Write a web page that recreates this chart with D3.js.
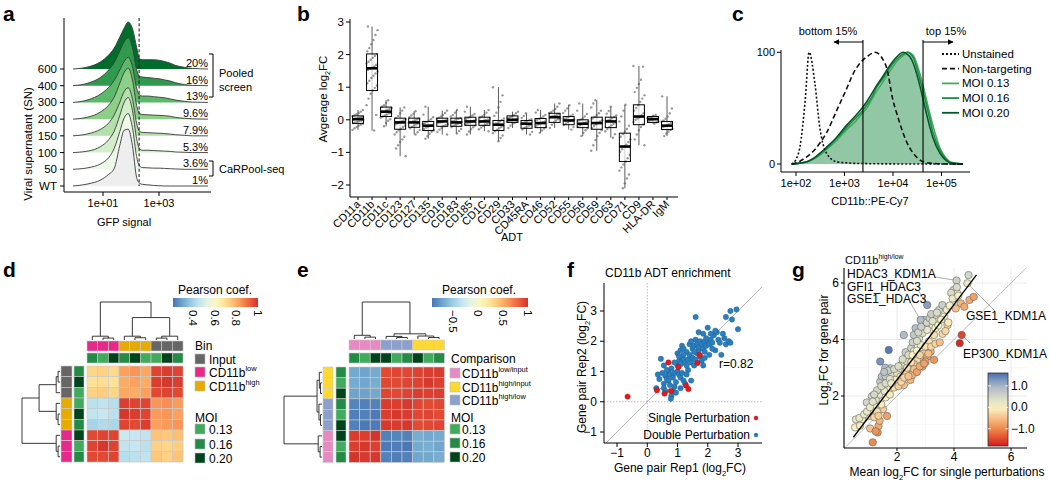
<!DOCTYPE html>
<html><head><meta charset="utf-8">
<script src="https://cdn.jsdelivr.net/npm/d3@7"></script>
<style>
body{margin:0;background:#fff;}
svg{font-family:"Liberation Sans",Arial,Helvetica,sans-serif;}
</style></head><body>
<svg id="chart" width="1050" height="483"></svg>
<script>
// ================= DATA =================
// Panel a: ridgelines (GFP signal, log10 grid) per viral supernatant
const ridgeRows = ["600","400","300","200","150","100","50","WT"];
const ridgePct  = ["20%","16%","13%","9.6%","7.9%","5.3%","3.6%","1%"];
const ridgeGridLog = [-0.07,0.5,0.9,1.2,1.4,1.6,1.75,1.9,2.05,2.2,2.3,2.4,2.6,2.8,3.0,3.2,3.4,3.6,3.9,4.2,4.75];
const ridge600 = [0,0.04,0.12,0.24,0.36,0.55,0.7,0.81,0.7,0.38,0.18,0.16,0.16,0.16,0.15,0.13,0.1,0.06,0.03,0.01,0];
const ridge400 = [0,0.05,0.14,0.27,0.4,0.6,0.75,0.83,0.66,0.28,0.16,0.15,0.14,0.13,0.12,0.1,0.08,0.05,0.02,0.005,0];
const ridge300 = [0,0.05,0.14,0.26,0.38,0.56,0.7,0.78,0.62,0.25,0.13,0.11,0.11,0.1,0.09,0.08,0.06,0.04,0.02,0.005,0];
const ridge200 = [0,0.04,0.12,0.24,0.38,0.62,0.8,0.88,0.68,0.24,0.1,0.08,0.075,0.07,0.065,0.06,0.05,0.03,0.015,0.005,0];
const ridge150 = [0,0.04,0.11,0.22,0.36,0.58,0.76,0.83,0.64,0.22,0.08,0.06,0.055,0.05,0.045,0.04,0.03,0.02,0.01,0,0];
const ridge100 = [0,0.03,0.1,0.22,0.37,0.64,0.86,0.95,0.73,0.24,0.07,0.04,0.04,0.035,0.03,0.025,0.02,0.01,0.005,0,0];
const ridge50  = [0,0.03,0.09,0.2,0.36,0.65,0.88,0.96,0.72,0.22,0.06,0.03,0.025,0.02,0.02,0.015,0.01,0.005,0,0,0];
const ridgeWT  = [0,0.04,0.1,0.2,0.3,0.7,0.96,0.98,0.7,0.15,0.05,0.03,0.02,0.01,0.005,0,0,0,0,0,0];
const ridgeFill = ["#006d2c","#2f9a4e","#5cb96b","#8ccf87","#b3e0ab","#d3eecb","#edf8e9","#eeeeee"];

// Panel b: ADT boxplots
const adtNames = ["CD11a","CD11b","CD11c","CD123","CD127","CD135","CD16","CD183","CD185","CD1C","CD29","CD33","CD45RA","CD46","CD52","CD55","CD56","CD59","CD63","CD71","CD9","HLA-DR","IgM"];
const adtMedian = [0.02,1.58,0.25,-0.08,-0.08,-0.18,-0.05,-0.08,-0.05,-0.05,-0.15,0.0,-0.12,-0.1,0.08,-0.02,-0.12,-0.1,-0.05,-0.82,0.1,0.02,-0.18];
const adtQ1 = [-0.11,0.9,0.1,-0.29,-0.23,-0.33,-0.2,-0.2,-0.17,-0.17,-0.33,-0.08,-0.26,-0.24,-0.08,-0.15,-0.24,-0.29,-0.24,-1.28,-0.15,-0.08,-0.3];
const adtQ3 = [0.12,2.02,0.39,0.05,0.05,-0.05,0.05,0.05,0.08,0.08,-0.02,0.12,-0.02,0.04,0.2,0.1,0.0,0.08,0.08,-0.41,0.46,0.1,-0.05];
const adtPoints = [
 [-0.31,-0.26,-0.22,-0.18,-0.15,-0.12,-0.1,-0.08,-0.06,-0.04,-0.02,0,0.01,0.03,0.05,0.07,0.09,0.11,0.14,0.17,0.21,0.25,0.3],
 [-0.33,0.15,0.45,0.65,0.8,0.9,0.98,1.05,1.12,1.2,1.28,1.35,1.42,1.48,1.53,1.57,1.6,1.64,1.68,1.73,1.78,1.84,1.9,1.96,2.02,2.1,2.2,2.32,2.45,2.6,2.75,2.86],
 [-0.2,-0.1,-0.03,0.02,0.06,0.1,0.13,0.16,0.19,0.21,0.23,0.25,0.27,0.3,0.33,0.36,0.4,0.45,0.52,0.6],
 [-1.12,-0.88,-0.78,-0.68,-0.6,-0.52,-0.45,-0.38,-0.32,-0.27,-0.22,-0.18,-0.14,-0.11,-0.08,-0.05,-0.02,0.02,0.06,0.12,0.2,0.28,0.38],
 [-0.45,-0.38,-0.31,-0.26,-0.21,-0.17,-0.14,-0.11,-0.09,-0.07,-0.05,-0.02,0.01,0.04,0.08,0.13,0.19,0.26],
 [-0.58,-0.5,-0.43,-0.37,-0.32,-0.28,-0.24,-0.21,-0.18,-0.16,-0.13,-0.1,-0.07,-0.03,0.02,0.08,0.16,0.4],
 [-0.45,-0.37,-0.3,-0.25,-0.2,-0.16,-0.13,-0.1,-0.08,-0.06,-0.03,0,0.03,0.06,0.1,0.15,0.21,0.28],
 [-0.42,-0.34,-0.28,-0.22,-0.18,-0.15,-0.12,-0.09,-0.07,-0.05,-0.03,0,0.03,0.06,0.1,0.15,0.22,0.3],
 [-0.45,-0.36,-0.29,-0.23,-0.18,-0.14,-0.11,-0.08,-0.05,-0.03,0,0.03,0.06,0.09,0.13,0.18,0.25,0.4],
 [-0.35,-0.29,-0.24,-0.19,-0.15,-0.12,-0.09,-0.07,-0.05,-0.03,-0.01,0.01,0.04,0.07,0.11,0.16,0.22,0.3],
 [-0.66,-0.56,-0.48,-0.41,-0.35,-0.3,-0.26,-0.22,-0.18,-0.15,-0.12,-0.09,-0.05,-0.01,0.04,0.12,0.22,0.38,0.55,0.75,1.0],
 [-0.25,-0.18,-0.13,-0.1,-0.07,-0.05,-0.03,-0.02,0,0.01,0.03,0.05,0.07,0.1,0.14,0.2,0.25],
 [-0.45,-0.37,-0.3,-0.25,-0.21,-0.18,-0.15,-0.12,-0.1,-0.07,-0.04,-0.01,0.02,0.06,0.12,0.2],
 [-0.4,-0.33,-0.27,-0.22,-0.18,-0.14,-0.11,-0.08,-0.06,-0.03,0,0.03,0.06,0.1,0.15,0.22,0.3],
 [-0.25,-0.15,-0.08,-0.02,0.02,0.05,0.08,0.1,0.12,0.15,0.18,0.21,0.24,0.28,0.33,0.4,0.5],
 [-0.3,-0.22,-0.16,-0.11,-0.07,-0.04,-0.01,0.01,0.03,0.06,0.09,0.12,0.16,0.21,0.28,0.35,0.45],
 [-0.5,-0.4,-0.32,-0.26,-0.21,-0.17,-0.13,-0.1,-0.08,-0.05,-0.02,0.01,0.05,0.1,0.18,0.28,0.5],
 [-0.95,-0.78,-0.62,-0.5,-0.4,-0.32,-0.25,-0.19,-0.14,-0.09,-0.05,-0.01,0.04,0.09,0.14,0.2,0.28,0.38,0.5,0.6],
 [-0.55,-0.44,-0.35,-0.28,-0.22,-0.17,-0.12,-0.08,-0.05,-0.02,0.01,0.05,0.09,0.13,0.19,0.27,0.4],
 [-2.1,-1.95,-1.8,-1.68,-1.56,-1.46,-1.37,-1.28,-1.18,-1.08,-0.98,-0.9,-0.82,-0.76,-0.68,-0.6,-0.52,-0.44,-0.36,-0.28,-0.18,-0.05,0.1,0.28,0.46],
 [-0.78,-0.6,-0.45,-0.32,-0.22,-0.14,-0.07,0,0.04,0.08,0.14,0.2,0.28,0.36,0.45,0.55,0.65,0.75,0.85,0.98,1.1,1.23,1.63,1.65],
 [-0.12,-0.08,-0.05,-0.03,-0.01,0.01,0.02,0.03,0.05,0.07,0.09,0.12,0.15],
 [-0.5,-0.42,-0.36,-0.31,-0.27,-0.23,-0.2,-0.17,-0.14,-0.1,-0.06,-0.02,0.03,0.1,0.2,0.35,0.72]
];
const adtTicks = [-2,-1,0,1,2,3];

// Panel c: CD11b::PE-Cy7 histograms (log10 grid, % of max)
const cGridLog = [1.91,2.0,2.08,2.19,2.27,2.39,2.49,2.63,2.84,3.05,3.18,3.38,3.46,3.59,3.63,3.8,3.87,4.0,4.08,4.21,4.3,4.35,4.42,4.56,4.62,4.76,4.82,4.97,5.1,5.2,5.44];
const cUnstained = [0,4,15,57,100,72,33,9.5,2,1,0.6,0.4,0.3,0.2,0.2,0.1,0.1,0.1,0,0,0,0,0,0,0,0,0,0,0,0,0];
const cNonTarget = [0,1,2.5,5.5,8,13,18.5,28,48,68,81,93,96,99.5,100,93,86,57,45,27.5,18,14,9.5,3.5,2,0.8,0.5,0.2,0,0,0];
const cMoi013 = [0,0.2,0.6,1.4,2.5,5,8,13,21,31,36,46,50,60,63,74,79,87,92,97,100,99.5,97,80,70,45,35,14,5,1.5,0];
const cMoi016 = [0,0.3,0.7,1.6,2.8,5.5,9,14,23,33,39,48,53,62,66,77,82,90,94,98.5,100,99,95,75,65,40,29,12,4,1,0];
const cMoi020 = [0,0.3,0.8,1.8,3,6,9.5,15,24,35,41,51,56,65,68,79,84,92,96,100,98,96,90,69,58,33,24,9.5,3,0.8,0];
const cGates = [2400, 41600];
const cTicks = [100,1000,10000,100000];

// Panel d: Pearson correlation (rows: Input x3, CD11b high x3, CD11b low x3; cols: low x3, high x3, input x3)
const dRowBin = ["Input","Input","Input","high","high","high","low","low","low"];
const dColBin = ["low","low","low","high","high","high","Input","Input","Input"];
const dRowMoi = ["0.16","0.20","0.13","0.13","0.20","0.16","0.20","0.13","0.16"];
const dColMoi = ["0.16","0.13","0.20","0.16","0.20","0.13","0.13","0.20","0.16"];
const dMatrix = [
 [0.72,0.73,0.71,0.82,0.84,0.81,0.97,0.98,0.97],
 [0.69,0.70,0.69,0.80,0.82,0.80,0.98,0.99,0.98],
 [0.73,0.74,0.72,0.81,0.80,0.82,0.96,0.97,0.96],
 [0.44,0.45,0.43,0.98,0.97,0.97,0.84,0.85,0.83],
 [0.45,0.46,0.44,0.99,0.98,0.97,0.83,0.84,0.82],
 [0.40,0.42,0.41,0.97,0.96,0.98,0.82,0.83,0.84],
 [0.96,0.97,0.97,0.47,0.46,0.45,0.76,0.75,0.77],
 [0.97,0.99,0.97,0.45,0.46,0.44,0.73,0.72,0.74],
 [0.96,0.96,0.97,0.43,0.44,0.45,0.75,0.73,0.76]
];
const dTicks = [0.4,0.6,0.8,1];

// Panel e: Pearson correlation of comparisons
const eRowCmp = ["high/input","high/input","high/input","high/low","high/low","high/low","low/input","low/input","low/input"];
const eColCmp = ["low/input","low/input","low/input","high/low","high/low","high/low","high/input","high/input","high/input"];
const eRowMoi = ["0.16","0.13","0.20","0.16","0.13","0.20","0.20","0.13","0.16"];
const eColMoi = ["0.16","0.13","0.20","0.20","0.13","0.16","0.20","0.13","0.16"];
const eMatrix = [
 [-0.7,-0.72,-0.69,0.9,0.92,0.91,0.93,0.95,0.96],
 [-0.69,-0.71,-0.68,0.91,0.9,0.92,0.93,0.97,0.94],
 [-0.72,-0.73,-0.7,0.92,0.91,0.93,0.95,0.94,0.95],
 [-0.86,-0.88,-0.87,0.96,0.95,0.97,0.92,0.9,0.91],
 [-0.89,-0.87,-0.9,0.95,0.98,0.96,0.91,0.92,0.9],
 [-0.88,-0.91,-0.9,0.97,0.96,0.98,0.9,0.91,0.92],
 [0.96,0.95,0.99,-0.88,-0.86,-0.87,-0.68,-0.7,-0.69],
 [0.95,0.98,0.94,-0.9,-0.89,-0.91,-0.69,-0.67,-0.71],
 [0.99,0.97,0.98,-0.87,-0.89,-0.88,-0.71,-0.7,-0.68]
];
const eTicks = [-0.5,0,0.5,1];

// Panel f: CD11b ADT enrichment replicate comparison
const fSingle = [[-0.65,0.17],[0.7,1.3],[1.03,1.15],[1.73,1.55],[1.66,1.28],[0.32,0.38],[0.57,0.27],[0.78,0.36],[1.28,0.54],[1.36,0.42]];
const fDouble = [[0.45,1.42],[0.55,0.6],[0.4,0.75],[0.35,0.9],[0.5,0.95],[0.6,0.85],[0.65,0.75],[0.7,0.7],[0.55,0.45],[0.75,0.55],[0.8,0.2],[0.78,0.1],[0.85,0.35],[0.9,0.5],[0.95,0.65],[0.7,1.0],[0.75,0.9],[0.8,1.1],[0.85,0.8],[0.9,0.95],[1.0,1.0],[1.05,0.9],[1.1,0.8],[1.15,0.95],[1.2,0.7],[1.25,0.6],[1.3,0.9],[1.35,1.05],[1.0,1.2],[1.05,1.35],[1.1,1.25],[1.15,1.45],[1.2,1.4],[1.25,1.3],[1.3,1.2],[1.35,1.4],[1.0,1.6],[1.05,1.5],[1.1,1.7],[1.15,1.85],[1.2,1.75],[1.3,1.65],[1.4,1.55],[1.45,1.3],[1.5,1.45],[1.55,1.2],[1.6,1.4],[1.65,1.6],[1.7,1.7],[1.75,1.5],[1.8,1.35],[1.85,1.2],[1.9,1.45],[1.4,1.9],[1.45,2.0],[1.5,1.75],[1.55,1.85],[1.6,2.05],[1.65,1.9],[1.7,1.8],[1.75,2.0],[1.8,1.9],[1.85,1.75],[1.9,2.0],[1.95,1.85],[2.0,2.0],[2.05,1.9],[2.1,2.05],[2.15,1.95],[2.2,2.2],[2.25,1.7],[2.3,2.3],[2.35,2.05],[2.4,1.95],[2.5,2.25],[2.55,2.1],[2.6,1.9],[2.7,2.0],[2.75,1.95],[1.6,2.8],[1.7,2.3],[1.85,2.25],[1.95,2.1],[2.0,2.45],[2.1,2.25],[2.25,2.35],[2.6,2.8],[2.75,3.0],[2.95,3.05],[2.8,2.72],[3.0,2.4],[2.45,1.55],[2.05,1.55],[1.2,1.55],[0.55,1.2],[0.65,1.05],[0.95,0.3],[1.1,0.45],[1.45,0.7],[0.9,1.3],[0.3,0.45],[0.6,0.35],[1.55,1.65],[1.9,1.65],[2.15,1.75]];
const fTicks = [-1,0,1,2,3];

// Panel g: gene pair vs mean single perturbations [x, y, colour score]
const gPoints = [[0.53,0.89,0.1],[0.56,1.17,0.25],[0.77,1.17,0.1],[0.68,1.22,0.2],[1.0,1.29,-0.1],[1.06,0.85,-0.5],[1.15,0.36,-1.0],[1.32,0.71,-0.9],[1.35,0.94,-0.7],[1.39,1.12,-0.6],[1.65,1.29,-0.8],[1.51,1.53,-0.4],[1.1,1.5,0.1],[1.24,1.68,0.1],[0.94,1.77,0.5],[1.27,1.86,0.3],[1.41,2.05,0.3],[1.12,1.99,0.5],[1.57,2.17,0.2],[1.77,2.29,0.0],[1.41,2.51,0.7],[1.65,2.63,0.5],[1.82,2.75,0.4],[1.47,2.69,0.8],[2.0,2.81,0.2],[2.12,2.98,0.3],[1.77,2.98,0.6],[1.59,3.0,0.9],[1.41,3.22,1.3],[1.71,3.63,1.5],[2.17,3.1,0.3],[2.35,3.22,0.2],[2.0,2.51,-0.1],[2.24,2.39,-0.5],[2.47,2.57,-0.6],[2.47,2.86,-0.3],[2.65,3.1,-0.3],[2.77,3.22,-0.4],[2.89,3.34,-0.5],[2.95,3.51,-0.4],[2.83,3.81,0.1],[2.77,4.05,0.3],[2.89,4.22,0.3],[2.59,4.16,0.7],[2.24,4.16,0.9],[2.89,4.57,0.8],[2.95,4.69,0.8],[2.83,4.69,0.9],[3.06,5.22,1.2],[3.36,4.86,0.5],[3.47,5.04,0.5],[3.59,5.22,0.6],[3.65,4.81,0.1],[3.42,4.63,0.2],[3.24,4.51,0.3],[3.06,4.34,0.2],[3.3,4.16,-0.2],[3.12,3.93,-0.2],[3.0,3.75,-0.2],[3.18,3.57,-0.6],[3.06,3.39,-0.7],[3.3,3.28,-0.9],[3.77,4.51,-0.3],[4.0,5.46,0.2],[3.98,5.75,0.4],[4.12,5.63,0.2],[4.24,5.28,-0.6],[4.06,5.1,-0.5],[4.36,5.16,-0.7],[4.54,5.4,-0.7],[4.69,5.51,-0.8],[4.47,5.99,0.2],[4.09,6.09,0.6],[4.51,6.28,0.5],[4.27,4.16,-1.5],[4.2,3.87,-1.7],[2.71,3.28,-0.3],[2.59,3.13,-0.4],[2.41,2.98,-0.4],[2.29,2.86,-0.3],[2.12,2.69,-0.2],[1.94,2.57,-0.1],[2.53,2.75,-0.6],[2.89,3.04,-0.8],[3.0,3.22,-0.8],[1.6,2.7,0.7],[1.7,2.9,0.6],[1.55,2.85,0.8],[1.9,2.95,0.5],[2.05,3.05,0.4],[2.3,3.55,0.6],[2.5,3.7,0.5],[2.55,3.9,0.6],[2.65,4.4,0.9],[2.7,3.95,0.4],[2.6,3.6,0.2],[2.4,3.45,0.4],[2.2,3.3,0.4],[2.75,4.25,0.5],[2.85,4.45,0.6],[3.05,4.6,0.5],[3.15,4.75,0.5],[3.25,4.65,0.3],[3.35,4.4,0.0],[3.45,4.5,0.0],[3.55,4.7,0.1],[3.75,5.05,0.1],[3.85,5.2,0.1],[3.9,5.65,0.4],[3.95,5.45,0.2],[4.1,5.85,0.4],[4.15,5.55,0.1],[3.2,4.9,0.6],[3.4,4.95,0.4],[0.7,0.95,-0.1],[0.85,1.35,0.2],[0.95,1.45,0.2],[1.05,1.6,0.2],[1.2,1.25,-0.3],[1.3,1.45,-0.2],[1.45,1.7,-0.1],[1.6,1.95,0.0],[1.75,2.05,-0.1],[1.85,2.4,0.1],[1.3,2.2,0.5],[1.2,2.05,0.5],[1.15,1.8,0.3],[1.45,2.35,0.4],[1.6,2.45,0.4],[1.75,2.6,0.3],[1.9,2.3,-0.2],[2.05,2.35,-0.4],[2.15,2.5,-0.3],[2.25,2.65,-0.3],[2.4,2.7,-0.5],[2.6,2.95,-0.5],[2.7,2.85,-0.8],[2.8,3.05,-0.7],[2.95,3.15,-0.8],[3.1,3.5,-0.5],[3.2,3.75,-0.3],[3.35,3.85,-0.3],[3.5,3.9,-0.5],[3.6,4.2,-0.3],[3.7,4.3,-0.3],[3.8,4.6,-0.1],[1.25,0.75,-0.9],[1.35,1.3,-0.4],[1.8,2.45,0.2],[2.35,3.0,-0.2],[2.5,3.2,-0.2],[2.55,3.45,0.0],[2.7,3.6,0.0],[2.8,3.45,-0.3]];
const gFitX = [0.47,4.79];
const gFitY = [0.54,6.29];
const gTicks = [2,4,6];
const gColorTicks = [1.0,0.0,-1.0];
const gLabels = [
 {name:"HDAC3_KDM1A", pt:[4.09,6.09]},
 {name:"GFI1_HDAC3", pt:[3.06,5.22]},
 {name:"GSE1_HDAC3", pt:[2.89,4.57]},
 {name:"GSE1_KDM1A", pt:[4.47,5.99]},
 {name:"EP300_KDM1A", pt:[4.27,4.16]}
];

// ================= DRAWING =================
const svg = d3.select("#chart");
svg.append("rect").attr("width",1050).attr("height",483).attr("fill","#fff");
const defs = svg.append("defs");

function panelLabel(x,y,t){
  svg.append("text").attr("x",x).attr("y",y).attr("font-size",21).attr("font-weight","bold").text(t);
}
function rich(sel,x,y,parts,fs,opts){
  opts = opts||{};
  const t = sel.append("text").attr("font-size",fs);
  if(opts.rotate!==undefined) t.attr("transform",`translate(${x},${y}) rotate(${opts.rotate})`);
  else t.attr("x",x).attr("y",y);
  if(opts.anchor) t.attr("text-anchor",opts.anchor);
  let shift=0;
  parts.forEach(([s,k])=>{
    const sp=t.append("tspan").text(s);
    const target = k==="sub"? fs*0.3 : (k==="sup"? -fs*0.42 : 0);
    if(target!==shift){ sp.attr("dy",target-shift); shift=target; }
    if(k!=="n") sp.attr("font-size",fs*0.62);
  });
  return t;
}
function hline(g,x1,x2,y,w,c){ return g.append("line").attr("x1",x1).attr("x2",x2).attr("y1",y).attr("y2",y).attr("stroke",c||"#000").attr("stroke-width",w||1); }
function vline(g,x,y1,y2,w,c){ return g.append("line").attr("x1",x).attr("x2",x).attr("y1",y1).attr("y2",y2).attr("stroke",c||"#000").attr("stroke-width",w||1); }
function sci(v){ const e=Math.round(Math.log10(v)); return "1e+"+(e<10?"0"+e:e); }
function num(t){ return t<0 ? "\u2212"+Math.abs(t) : String(t); }
// heatmap palette: blue - yellow - red (RdYlBu without the darkest ends)
function heatColor(t){ return d3.interpolateRdYlBu(0.9-0.8*Math.max(0,Math.min(1,t))); }

// ---------- Panel a ----------
(function(){
  const g = svg.append("g");
  panelLabel(3,21,"a");
  const xA = d3.scaleLog().domain([10,1000]).range([103,159]);
  const yA = d3.scalePoint().domain(ridgeRows).range([69,186]);
  const hA = d3.scaleLinear().domain([0,1]).range([0,58]);
  const series = [ridge600,ridge400,ridge300,ridge200,ridge150,ridge100,ridge50,ridgeWT];
  ridgeRows.forEach((r,i)=>{
    const base = yA(r);
    const pts = ridgeGridLog.map((L,j)=>[Math.pow(10,L), series[i][j]]);
    const area = d3.area().x(d=>xA(d[0])).y0(base).y1(d=>base-hA(d[1])).curve(d3.curveMonotoneX);
    const line = d3.line().x(d=>xA(d[0])).y(d=>base-hA(d[1])).curve(d3.curveMonotoneX);
    g.append("path").attr("d",area(pts)).attr("fill",ridgeFill[i]);
    g.append("path").attr("d",line(pts)).attr("fill","none").attr("stroke","#3a3a3a").attr("stroke-width",0.9);
  });
  vline(g, xA(Math.pow(10,2.29)), 18, 186, 1.1, "#222").attr("stroke-dasharray","3,2.2");
  ridgeRows.forEach((r,i)=>{
    g.append("text").attr("x",208).attr("y",yA(r)-2).attr("text-anchor","end").attr("font-size",11).text(ridgePct[i]);
  });
  vline(g,64,18,192,1);
  hline(g,64,211,192,1);
  ridgeRows.forEach(r=>{
    hline(g,60,64,yA(r),1);
    g.append("text").attr("x",57).attr("y",yA(r)+4).attr("text-anchor","end").attr("font-size",11.5).text(r);
  });
  [10,1000].forEach(v=>{
    vline(g,xA(v),192,196,1);
    g.append("text").attr("x",xA(v)).attr("y",207).attr("text-anchor","middle").attr("font-size",11).text(sci(v));
  });
  g.append("text").attr("x",124).attr("y",226).attr("text-anchor","middle").attr("font-size",11).text("GFP signal");
  g.append("text").attr("transform","translate(32,144) rotate(-90)").attr("text-anchor","middle").attr("font-size",11.5).text("Viral supernatant (SN)");
  vline(g,213,54,97,1); hline(g,209,213,54,1); hline(g,209,213,97,1);
  g.append("text").attr("x",219).attr("y",77).attr("font-size",11).text("Pooled");
  g.append("text").attr("x",219).attr("y",91).attr("font-size",11).text("screen");
  vline(g,213,161,176,1); hline(g,209,213,161,1); hline(g,209,213,176,1);
  g.append("text").attr("x",219).attr("y",173).attr("font-size",11).text("CaRPool-seq");
})();

// ---------- Panel b ----------
(function(){
  const g = svg.append("g");
  panelLabel(297,21,"b");
  const xB = d3.scalePoint().domain(adtNames).range([358,667]);
  const yB = d3.scaleLinear().domain([-2,3]).range([185,22]);
  const bw = 11;
  adtNames.forEach((n,i)=>{
    const x = xB(n);
    const pts = adtPoints[i];
    const lo = d3.min(pts), hi = d3.max(pts);
    vline(g,x,yB(hi),yB(lo),0.8,"#333");
    g.append("rect").attr("x",x-bw/2).attr("y",yB(adtQ3[i])).attr("width",bw)
      .attr("height",yB(adtQ1[i])-yB(adtQ3[i])).attr("fill","#fff").attr("fill-opacity",0.7);
    pts.forEach((v,j)=>{
      const off = (((j*37+i*11)%17)/16-0.5)*11;
      g.append("circle").attr("cx",x+off).attr("cy",yB(v)).attr("r",1.2).attr("fill","#555").attr("fill-opacity",0.6);
    });
    g.append("rect").attr("x",x-bw/2).attr("y",yB(adtQ3[i])).attr("width",bw)
      .attr("height",yB(adtQ1[i])-yB(adtQ3[i])).attr("fill","none").attr("stroke","#000").attr("stroke-width",1);
    hline(g,x-bw/2,x+bw/2,yB(adtMedian[i]),2.6,"#000");
  });
  vline(g,350,19,197,1);
  hline(g,350,678,197,1);
  adtTicks.forEach(t=>{
    hline(g,346,350,yB(t),1);
    g.append("text").attr("x",344).attr("y",yB(t)+4).attr("text-anchor","end").attr("font-size",11.5).text(num(t));
  });
  adtNames.forEach(n=>{
    vline(g,xB(n),197,200,1);
    g.append("text").attr("transform",`translate(${xB(n)+3},${205}) rotate(-45)`).attr("text-anchor","end").attr("font-size",11).text(n);
  });
  g.append("text").attr("x",512).attr("y",241).attr("text-anchor","middle").attr("font-size",11).text("ADT");
  rich(g,327,99,[["Avgerage log","n"],["2","sub"],["FC","n"]],11.5,{rotate:-90,anchor:"middle"});
})();

// ---------- Panel c ----------
(function(){
  const g = svg.append("g");
  panelLabel(732,21,"c");
  const xC = d3.scaleLog().domain([100,100000]).range([796,941.5]);
  const yC = d3.scaleLinear().domain([0,100]).range([164,52.3]);
  const mk = arr => cGridLog.map((L,j)=>[Math.pow(10,L),arr[j]]);
  const area = d3.area().x(d=>xC(d[0])).y0(yC(0)).y1(d=>yC(d[1])).curve(d3.curveMonotoneX);
  const line = d3.line().x(d=>xC(d[0])).y(d=>yC(d[1])).curve(d3.curveMonotoneX);
  [cMoi013,cMoi016,cMoi020].forEach(a=>{
    g.append("path").attr("d",area(mk(a))).attr("fill","#2a9150").attr("fill-opacity",0.21);
  });
  const moiCols = ["#41ab5d","#238b45","#00592b"];
  [cMoi013,cMoi016,cMoi020].forEach((a,i)=>{
    g.append("path").attr("d",line(mk(a))).attr("fill","none").attr("stroke",moiCols[i]).attr("stroke-width",1.6);
  });
  g.append("path").attr("d",line(mk(cUnstained))).attr("fill","none").attr("stroke","#111").attr("stroke-width",1.6).attr("stroke-dasharray","2,2");
  g.append("path").attr("d",line(mk(cNonTarget))).attr("fill","none").attr("stroke","#111").attr("stroke-width",1.6).attr("stroke-dasharray","5,3");
  cGates.forEach(v=>vline(g,xC(v),40,172,1.1,"#000"));
  defs.append("marker").attr("id","arr").attr("viewBox","0 0 10 10").attr("refX",9).attr("refY",5)
    .attr("markerWidth",6).attr("markerHeight",6).attr("orient","auto-start-reverse")
    .append("path").attr("d","M0,0 L10,5 L0,10 z").attr("fill","#000");
  g.append("line").attr("x1",xC(cGates[0])).attr("x2",834).attr("y1",42).attr("y2",42).attr("stroke","#000").attr("stroke-width",1).attr("marker-end","url(#arr)");
  g.append("line").attr("x1",xC(cGates[1])).attr("x2",953).attr("y1",42).attr("y2",42).attr("stroke","#000").attr("stroke-width",1).attr("marker-end","url(#arr)");
  g.append("text").attr("x",828).attr("y",35).attr("text-anchor","middle").attr("font-size",11).text("bottom 15%");
  g.append("text").attr("x",946).attr("y",35).attr("text-anchor","middle").attr("font-size",11).text("top 15%");
  vline(g,781,50,172,1);
  hline(g,781,970,172,1);
  [0,100].forEach(t=>{
    hline(g,777,781,yC(t),1);
    g.append("text").attr("x",775).attr("y",yC(t)+4).attr("text-anchor","end").attr("font-size",11).text(t);
  });
  cTicks.forEach(t=>{
    vline(g,xC(t),172,176,1);
    g.append("text").attr("x",xC(t)).attr("y",187).attr("text-anchor","middle").attr("font-size",11).text(sci(t));
  });
  g.append("text").attr("x",870).attr("y",205).attr("text-anchor","middle").attr("font-size",11).text("CD11b::PE-Cy7");
  const leg = [["Unstained","#111","2,2"],["Non-targeting","#111","5,3"],["MOI 0.13",moiCols[0],null],["MOI 0.16",moiCols[1],null],["MOI 0.20",moiCols[2],null]];
  leg.forEach((d,i)=>{
    const y = 54 + i*14.7;
    const l = g.append("line").attr("x1",942).attr("x2",959).attr("y1",y).attr("y2",y).attr("stroke",d[1]).attr("stroke-width",1.8);
    if(d[2]) l.attr("stroke-dasharray",d[2]);
    g.append("text").attr("x",962).attr("y",y+4).attr("font-size",11.5).text(d[0]);
  });
})();

// ---------- dendrogram helper ----------
function drawDendro(g, tree, leafPos, hScale, horizontal){
  function rec(node){
    if(typeof node === "number") return [leafPos(node), 0];
    const kids = node.c.map(rec);
    const p = d3.mean(kids, k=>k[0]);
    const hy = hScale(node.h);
    kids.forEach(k=>{
      if(!horizontal) vline(g,k[0],hy,hScale(k[1]),0.9,"#222");
      else hline(g,hy,hScale(k[1]),k[0],0.9,"#222");
    });
    const mn = d3.min(kids,k=>k[0]), mx = d3.max(kids,k=>k[0]);
    if(!horizontal) hline(g,mn,mx,hy,0.9,"#222"); else vline(g,hy,mn,mx,0.9,"#222");
    return [p,node.h];
  }
  rec(tree);
}
const moiColor = {"0.13":"#41ab5d","0.16":"#238b45","0.20":"#00441b"};

// ---------- Panel d ----------
(function(){
  const g = svg.append("g");
  panelLabel(3,277,"d");
  const x0=87, y0=366, cs=10.67;
  const norm = d3.scaleLinear().domain([0.21,1]);
  const col = v=>heatColor(norm(v));
  const binColor = {"Input":"#666666","low":"#e7298a","high":"#e6ab02"};
  dMatrix.forEach((row,i)=>row.forEach((v,j)=>{
    g.append("rect").attr("x",x0+j*cs).attr("y",y0+i*cs).attr("width",cs).attr("height",cs).attr("fill",col(v)).attr("stroke","#c9c9c9").attr("stroke-width",0.6);
  }));
  dColBin.forEach((b,j)=>{
    g.append("rect").attr("x",x0+j*cs).attr("y",341).attr("width",cs).attr("height",10).attr("fill",binColor[b]).attr("stroke","#c9c9c9").attr("stroke-width",0.6);
    g.append("rect").attr("x",x0+j*cs).attr("y",353).attr("width",cs).attr("height",10).attr("fill",moiColor[dColMoi[j]]).attr("stroke","#c9c9c9").attr("stroke-width",0.6);
  });
  dRowBin.forEach((b,i)=>{
    g.append("rect").attr("x",61).attr("y",y0+i*cs).attr("width",11).attr("height",cs).attr("fill",binColor[b]).attr("stroke","#c9c9c9").attr("stroke-width",0.6);
    g.append("rect").attr("x",74).attr("y",y0+i*cs).attr("width",10).attr("height",cs).attr("fill",moiColor[dRowMoi[i]]).attr("stroke","#c9c9c9").attr("stroke-width",0.6);
  });
  const colTree = {h:1,c:[{h:0.1,c:[0,{h:0.05,c:[1,2]}]},{h:0.59,c:[{h:0.1,c:[3,{h:0.06,c:[4,5]}]},{h:0.1,c:[{h:0.05,c:[6,7]},8]}]}]};
  const rowTree = {h:1,c:[{h:0.55,c:[{h:0.1,c:[{h:0.05,c:[0,1]},2]},{h:0.1,c:[3,{h:0.05,c:[4,5]}]}]},{h:0.1,c:[6,{h:0.05,c:[7,8]}]}]};
  drawDendro(g,colTree,k=>x0+(k+0.5)*cs,d3.scaleLinear().domain([0,1]).range([340,302]),false);
  drawDendro(g,rowTree,k=>y0+(k+0.5)*cs,d3.scaleLinear().domain([0,1]).range([60,22]),true);
  const cbX = d3.scaleLinear().domain([0.21,1]).range([173,258]);
  const grad = defs.append("linearGradient").attr("id","gradD");
  d3.range(0,1.0001,0.1).forEach(t=>grad.append("stop").attr("offset",t).attr("stop-color",heatColor(t)));
  g.append("rect").attr("x",173).attr("y",298).attr("width",85).attr("height",9).attr("fill","url(#gradD)");
  g.append("text").attr("x",215).attr("y",294).attr("text-anchor","middle").attr("font-size",12).text("Pearson coef.");
  dTicks.forEach(t=>{
    g.append("text").attr("transform",`translate(${cbX(t)-4},310) rotate(90)`).attr("font-size",11.5).text(t);
  });
  g.append("text").attr("x",195).attr("y",350).attr("font-size",12).text("Bin");
  [["Input","Input",null],["low","CD11b","low"],["high","CD11b","high"]].forEach((d,i)=>{
    const y=[354,367,381][i];
    g.append("rect").attr("x",195).attr("y",y).attr("width",10).attr("height",10).attr("fill",binColor[d[0]]).attr("stroke","#bbb").attr("stroke-width",0.6);
    if(d[2]) rich(g,209,y+9.5,[[d[1],"n"],[d[2],"sup"]],12);
    else g.append("text").attr("x",209).attr("y",y+9.5).attr("font-size",12).text(d[1]);
  });
  g.append("text").attr("x",195).attr("y",422).attr("font-size",12).text("MOI");
  ["0.13","0.16","0.20"].forEach((m,i)=>{
    const y=[424,439,453][i];
    g.append("rect").attr("x",195).attr("y",y).attr("width",10).attr("height",10).attr("fill",moiColor[m]).attr("stroke","#bbb").attr("stroke-width",0.6);
    g.append("text").attr("x",209).attr("y",y+9.5).attr("font-size",12).text(m);
  });
})();

// ---------- Panel e ----------
(function(){
  const g = svg.append("g");
  panelLabel(297,277,"e");
  const x0=349, y0=367, cs=10.6;
  const norm = d3.scaleLinear().domain([-0.93,1]);
  const col = v=>heatColor(norm(v));
  const cmpColor = {"low/input":"#e78ac3","high/input":"#ffd92f","high/low":"#8da0cb"};
  eMatrix.forEach((row,i)=>row.forEach((v,j)=>{
    g.append("rect").attr("x",x0+j*cs).attr("y",y0+i*cs).attr("width",cs).attr("height",cs).attr("fill",col(v)).attr("stroke","#c9c9c9").attr("stroke-width",0.6);
  }));
  eColCmp.forEach((b,j)=>{
    g.append("rect").attr("x",x0+j*cs).attr("y",340).attr("width",cs).attr("height",10).attr("fill",cmpColor[b]).attr("stroke","#c9c9c9").attr("stroke-width",0.6);
    g.append("rect").attr("x",x0+j*cs).attr("y",353).attr("width",cs).attr("height",10).attr("fill",moiColor[eColMoi[j]]).attr("stroke","#c9c9c9").attr("stroke-width",0.6);
  });
  eRowCmp.forEach((b,i)=>{
    g.append("rect").attr("x",323).attr("y",y0+i*cs).attr("width",10).attr("height",cs).attr("fill",cmpColor[b]).attr("stroke","#c9c9c9").attr("stroke-width",0.6);
    g.append("rect").attr("x",336).attr("y",y0+i*cs).attr("width",10).attr("height",cs).attr("fill",moiColor[eRowMoi[i]]).attr("stroke","#c9c9c9").attr("stroke-width",0.6);
  });
  const colTree = {h:1,c:[{h:0.1,c:[0,{h:0.05,c:[1,2]}]},{h:0.14,c:[{h:0.07,c:[3,{h:0.04,c:[4,5]}]},{h:0.08,c:[6,{h:0.04,c:[7,8]}]}]}]};
  const rowTree = {h:1,c:[{h:0.13,c:[{h:0.07,c:[0,{h:0.04,c:[1,2]}]},{h:0.08,c:[3,{h:0.04,c:[4,5]}]}]},{h:0.1,c:[6,{h:0.05,c:[7,8]}]}]};
  drawDendro(g,colTree,k=>x0+(k+0.5)*cs,d3.scaleLinear().domain([0,1]).range([339,302]),false);
  drawDendro(g,rowTree,k=>y0+(k+0.5)*cs,d3.scaleLinear().domain([0,1]).range([322,284]),true);
  const cbX = d3.scaleLinear().domain([-0.93,1]).range([432,528]);
  const grad = defs.append("linearGradient").attr("id","gradE");
  d3.range(0,1.0001,0.1).forEach(t=>grad.append("stop").attr("offset",t).attr("stop-color",heatColor(t)));
  g.append("rect").attr("x",432).attr("y",298).attr("width",96).attr("height",9).attr("fill","url(#gradE)");
  g.append("text").attr("x",479).attr("y",294).attr("text-anchor","middle").attr("font-size",12).text("Pearson coef.");
  eTicks.forEach(t=>{
    g.append("text").attr("transform",`translate(${cbX(t)-4},310) rotate(90)`).attr("font-size",11.5).text(num(t));
  });
  g.append("text").attr("x",451).attr("y",363).attr("font-size",12).text("Comparison");
  [["low/input",368],["high/input",382],["high/low",395]].forEach(d=>{
    g.append("rect").attr("x",450).attr("y",d[1]).attr("width",10).attr("height",10).attr("fill",cmpColor[d[0]]).attr("stroke","#bbb").attr("stroke-width",0.6);
    rich(g,462,d[1]+9.5,[["CD11b","n"],[d[0],"sup"]],12);
  });
  g.append("text").attr("x",451).attr("y",422).attr("font-size",12).text("MOI");
  ["0.13","0.16","0.20"].forEach((m,i)=>{
    const y=[424,438,452][i];
    g.append("rect").attr("x",450).attr("y",y).attr("width",10).attr("height",10).attr("fill",moiColor[m]).attr("stroke","#bbb").attr("stroke-width",0.6);
    g.append("text").attr("x",462).attr("y",y+9.5).attr("font-size",12).text(m);
  });
})();

// ---------- Panel f ----------
(function(){
  const g = svg.append("g");
  panelLabel(567,277,"f");
  const xF = d3.scaleLinear().domain([-1,3]).range([617,738]);
  const yF = d3.scaleLinear().domain([-1,3]).range([432,311]);
  const xmin=xF.invert(604), xmax=xF.invert(762), ymin=yF.invert(443), ymax=yF.invert(283);
  g.append("text").attr("x",605).attr("y",277).attr("font-size",12).text("CD11b ADT enrichment");
  vline(g,xF(0),283,443,1,"#bbb").attr("stroke-dasharray","1.5,1.5");
  hline(g,604,762,yF(0),1,"#bbb").attr("stroke-dasharray","1.5,1.5");
  const d0=Math.max(xmin,ymin), d1=Math.min(xmax,ymax);
  g.append("line").attr("x1",xF(d0)).attr("y1",yF(d0)).attr("x2",xF(d1)).attr("y2",yF(d1)).attr("stroke","#aaa").attr("stroke-width",0.9);
  fDouble.forEach(p=>g.append("circle").attr("cx",xF(p[0])).attr("cy",yF(p[1])).attr("r",2.7).attr("fill","#2a7fc0").attr("stroke","#1d5a8c").attr("stroke-width",0.4));
  fSingle.forEach(p=>g.append("circle").attr("cx",xF(p[0])).attr("cy",yF(p[1])).attr("r",2.7).attr("fill","#e41a1c").attr("stroke","#a01010").attr("stroke-width",0.4));
  vline(g,604,283,443,1);
  hline(g,604,762,443,1);
  fTicks.forEach(t=>{
    vline(g,xF(t),443,447,1);
    g.append("text").attr("x",xF(t)).attr("y",457).attr("text-anchor","middle").attr("font-size",12).text(num(t));
    hline(g,600,604,yF(t),1);
    g.append("text").attr("x",597).attr("y",yF(t)+4).attr("text-anchor","end").attr("font-size",12).text(num(t));
  });
  g.append("text").attr("x",719).attr("y",368).attr("font-size",12).text("r=0.82");
  g.append("text").attr("x",750).attr("y",422).attr("text-anchor","end").attr("font-size",12).text("Single Perturbation");
  g.append("circle").attr("cx",756).attr("cy",418).attr("r",2.2).attr("fill","#e41a1c");
  g.append("text").attr("x",750).attr("y",439).attr("text-anchor","end").attr("font-size",12).text("Double Perturbation");
  g.append("circle").attr("cx",756).attr("cy",435).attr("r",2.2).attr("fill","#2a7fc0");
  rich(g,680,472,[["Gene pair Rep1 (log","n"],["2","sub"],["FC)","n"]],12,{anchor:"middle"});
  rich(g,586,367,[["Gene pair Rep2 (log","n"],["2","sub"],["FC)","n"]],12,{anchor:"middle",rotate:-90});
})();

// ---------- Panel g ----------
(function(){
  const g = svg.append("g");
  panelLabel(792,277,"g");
  const xG = d3.scaleLinear().domain([2,6]).range([897,1011]);
  const yG = d3.scaleLinear().domain([2,6]).range([396,283]);
  const L=844,R=1027,T=268,B=448;
  const xmin=xG.invert(L), xmax=xG.invert(R), ymin=yG.invert(B), ymax=yG.invert(T);
  [1,3,5].forEach(v=>{ vline(g,xG(v),T,B,0.5,"#f0f0f0"); hline(g,L,R,yG(v),0.5,"#f0f0f0"); });
  [2,4,6].forEach(v=>{ vline(g,xG(v),T,B,0.8,"#e4e4e4"); hline(g,L,R,yG(v),0.8,"#e4e4e4"); });
  const d0=Math.max(xmin,ymin), d1=Math.min(xmax,ymax);
  g.append("line").attr("x1",xG(d0)).attr("y1",yG(d0)).attr("x2",xG(d1)).attr("y2",yG(d1)).attr("stroke","#b5b5b5").attr("stroke-width",0.9);
  const col = d3.scaleLinear().domain([-1.8,-1.0,0,1.0,1.6]).range(["#d7191c","#f08a4b","#fbf6c4","#a9b7c9","#4a6db0"]).clamp(true);
  const lab = [[847,278,935,277],[847,291,918,290],[847,303,910,302],[966,320,995,311],[963,358,970,343]];
  gLabels.forEach((d,i)=>{
    const l = lab[i];
    g.append("line").attr("x1",l[2]).attr("y1",l[3]).attr("x2",xG(d.pt[0])).attr("y2",yG(d.pt[1])).attr("stroke","#999").attr("stroke-width",0.8);
  });
  gPoints.forEach(p=>g.append("circle").attr("cx",xG(p[0])).attr("cy",yG(p[1])).attr("r",3.7).attr("fill",col(p[2])).attr("stroke","#666").attr("stroke-width",0.6));
  g.append("line").attr("x1",xG(gFitX[0])).attr("y1",yG(gFitY[0])).attr("x2",xG(gFitX[1])).attr("y2",yG(gFitY[1])).attr("stroke","#000").attr("stroke-width",1.3);
  gLabels.forEach((d,i)=>{
    g.append("text").attr("x",lab[i][0]).attr("y",lab[i][1]).attr("font-size",12).text(d.name);
  });
  vline(g,L,T,B,1.1); hline(g,L,R,B,1.1);
  gTicks.forEach(t=>{
    vline(g,xG(t),B,B+3,1);
    g.append("text").attr("x",xG(t)).attr("y",461).attr("text-anchor","middle").attr("font-size",12).text(t);
    hline(g,L-3,L,yG(t),1);
    g.append("text").attr("x",L-5).attr("y",yG(t)+4).attr("text-anchor","end").attr("font-size",12).text(t);
  });
  rich(g,845,264,[["CD11b","n"],["high/low","sup"]],11);
  rich(g,947,476,[["Mean log","n"],["2","sub"],["FC for single perturbations","n"]],12,{anchor:"middle"});
  rich(g,828,350,[["Log","n"],["2","sub"],["FC for gene pair","n"]],12,{anchor:"middle",rotate:-90});
  const cbY = d3.scaleLinear().domain([-1.8,1.6]).range([446,373]);
  const grad = defs.append("linearGradient").attr("id","gradG").attr("x1",0).attr("x2",0).attr("y1",1).attr("y2",0);
  d3.range(0,1.0001,0.1).forEach(t=>grad.append("stop").attr("offset",t).attr("stop-color",col(-1.8+t*3.4)));
  g.append("rect").attr("x",988).attr("y",373).attr("width",20).attr("height",73).attr("fill","url(#gradG)").attr("stroke","#333").attr("stroke-width",0.8);
  gColorTicks.forEach(t=>{
    hline(g,988,991,cbY(t),0.8,"#fff"); hline(g,1005,1008,cbY(t),0.8,"#fff");
    g.append("text").attr("x",1011).attr("y",cbY(t)+4).attr("font-size",12).text(t<0?"\u2212"+Math.abs(t).toFixed(1):t.toFixed(1));
  });
})();
</script>
</body></html>
